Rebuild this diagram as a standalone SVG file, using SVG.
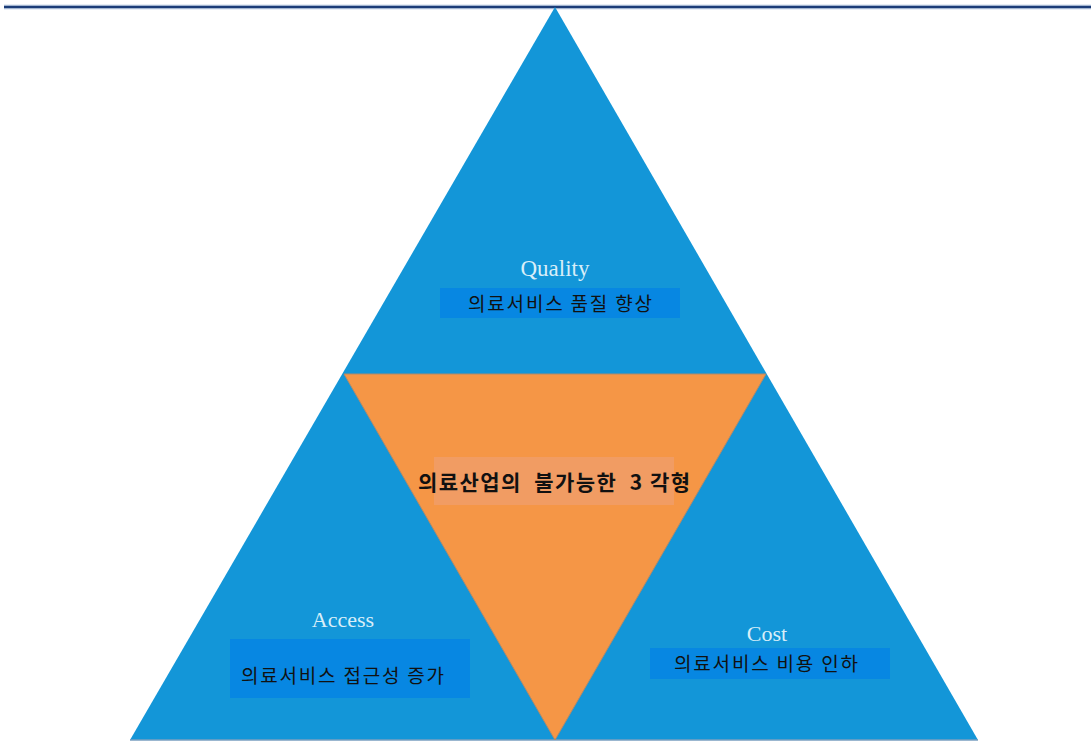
<svg xmlns="http://www.w3.org/2000/svg" width="1091" height="742" viewBox="0 0 1091 742">
<style>
.lbl{font-family:"Liberation Serif","DejaVu Serif",serif;font-size:22px;fill:#D8EEF8;text-anchor:middle}
.box{fill:#0787E2}
.kr{font-family:"Noto Sans CJK KR","Noto Sans",sans-serif;font-size:19px;fill:#111}
.title{font-family:"Noto Sans CJK KR","Noto Sans",sans-serif;font-size:21px;font-weight:bold;fill:#111}
</style>
<rect x="0" y="0" width="1091" height="742" fill="#ffffff"/>
<line x1="4" y1="7" x2="1091" y2="7" stroke="#D0DCEC" stroke-width="5"/>
<line x1="4" y1="7" x2="1091" y2="7" stroke="#1B3C78" stroke-width="2.5"/>
<g id="outer-triangle">
<polygon points="555,7 978,740 130,740" fill="#1396D8"/>
<line x1="130" y1="740" x2="978" y2="740" stroke="#7A9FC0" stroke-width="1.5"/>
</g>
<g id="inner-triangle">
<polygon points="344,374 766,374 555,740" fill="#F59646" stroke="#B08A6A" stroke-width="1"/>
<rect x="434" y="457" width="240" height="48" fill="#F19C63"/>
<text class="title" x="418" y="490" textLength="272" lengthAdjust="spacing" xml:space="preserve">의료산업의  불가능한  3 각형</text>
</g>
<g id="quality">
<text class="lbl" x="555" y="276" style="font-size:23px">Quality</text>
<rect class="box" x="440" y="288" width="240" height="30"/>
<text class="kr" x="468" y="311" textLength="184" lengthAdjust="spacing">의료서비스 품질 향상</text>
</g>
<g id="access">
<text class="lbl" x="343" y="627">Access</text>
<rect class="box" x="230" y="639" width="240" height="59"/>
<text class="kr" x="241" y="683" textLength="203" lengthAdjust="spacing">의료서비스 접근성 증가</text>
</g>
<g id="cost">
<text class="lbl" x="767" y="641">Cost</text>
<rect class="box" x="650" y="648" width="240" height="31"/>
<text class="kr" x="674" y="671" textLength="184" lengthAdjust="spacing">의료서비스 비용 인하</text>
</g>
<g id="connectors"></g>
</svg>
